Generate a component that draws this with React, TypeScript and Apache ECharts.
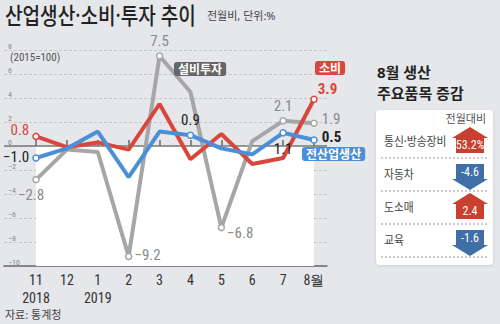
import React, { useEffect, useRef } from "react";
import * as echarts from "echarts";

const categories = ["11", "12", "1", "2", "3", "4", "5", "6", "7", "8월"];
const yearLabels = ["2018", "", "2019", "", "", "", "", "", "", ""];
const investment = [-2.8, -0.3, -0.5, -9.2, 7.5, 4.5, -6.8, 0.4, 2.1, 1.9];
const consumption = [0.8, -0.1, 0.3, -0.3, 3.5, -1.1, 1.0, -1.5, -1.0, 3.9];
const production = [-1.0, -0.2, 1.2, -2.6, 1.2, 0.9, -0.2, -0.7, 1.1, 0.5];

const itemNames = ["통신·방송장비", "자동차", "도소매", "교육"];
const itemChanges = [53.2, -4.6, 2.4, -1.6];

const NUM_FONT = '"Liberation Sans Narrow", "Roboto Condensed", "Liberation Sans", Roboto, sans-serif';
const KR_FONT = '"Noto Sans", "Noto Sans CJK KR", sans-serif';

const RED = "#d9473c";
const BLUE = "#4b8fd6";
const GRAY = "#a6a6a6";

const fmt = (v: number) => (v < 0 ? "−" + Math.abs(v).toFixed(1) : v.toFixed(1));

type LabelSpec = { position: string; offset?: number[]; color: string; bold?: boolean; distance?: number };

const investmentLabels: Record<number, LabelSpec> = {
  0: { position: "bottom", offset: [-5, 0], color: "#8a8a8a" },
  3: { position: "right", offset: [0, -1], color: "#8a8a8a", distance: 2 },
  4: { position: "top", offset: [0, 0], color: "#8a8a8a", distance: 4 },
  6: { position: "right", offset: [0, 5], color: "#8a8a8a", distance: 2 },
  8: { position: "top", offset: [0, 0], color: "#8a8a8a", distance: 4 },
  9: { position: "right", offset: [0, -4], color: "#8a8a8a", distance: 4 },
};
const consumptionLabels: Record<number, LabelSpec> = {
  0: { position: "left", offset: [0, -6], color: RED, distance: 3 },
  9: { position: "right", offset: [-2, -10], color: RED, bold: true, distance: 2 },
};
const productionLabels: Record<number, LabelSpec> = {
  0: { position: "left", offset: [0, -1], color: "#222", distance: 3 },
  5: { position: "top", offset: [0, 0], color: "#222", distance: 4 },
  8: { position: "bottom", offset: [0, 2], color: "#222", distance: 3 },
  9: { position: "right", offset: [0, -3], color: "#222", bold: true, distance: 4 },
};

function buildData(values: number[], labels: Record<number, LabelSpec>, color: string) {
  return values.map((v, i) => {
    const spec = labels[i];
    if (!spec) return { value: v, symbol: "none" };
    return {
      value: v,
      symbol: "circle",
      symbolSize: 6,
      itemStyle: { color: "#fff", borderColor: color, borderWidth: 1.5 },
      label: {
        show: true,
        position: spec.position,
        offset: spec.offset || [0, 0],
        distance: spec.distance ?? 4,
        color: spec.color,
        fontSize: 15,
        fontWeight: spec.bold ? "bold" : "normal",
        fontFamily: NUM_FONT,
        formatter: () => fmt(v),
      },
    };
  });
}

function tag(text: string, x: number, y: number, bg: string) {
  return {
    type: "text",
    x,
    y,
    z: 10,
    style: {
      text,
      fill: "#fff",
      font: `bold 12px ${KR_FONT}`,
      backgroundColor: bg,
      padding: [1, 4, 1, 4],
      borderRadius: 3,
    },
  };
}

function arrow(cx: number, cy: number, up: boolean, color: string, label: string) {
  const s = up ? 1 : -1;
  const pts = [
    [0, -13],
    [18, -2],
    [14, -2],
    [14, 13],
    [-14, 13],
    [-14, -2],
    [-18, -2],
  ].map(([px, py]) => [cx + px, cy + s * py]);
  return [
    { type: "polygon", shape: { points: pts }, style: { fill: color }, z: 10 },
    {
      type: "text",
      x: cx,
      y: cy + (up ? 5 : -5),
      z: 11,
      style: {
        text: label,
        fill: "#fff",
        font: `12px ${NUM_FONT}`,
        align: "center",
        verticalAlign: "middle",
      },
    },
  ];
}

export default function App() {
  const ref = useRef<HTMLDivElement>(null);
  useEffect(() => {
    document.body.style.margin = "0";
    if (!ref.current) return;
    const chart = echarts.init(ref.current, null, { renderer: "svg" });

    const panel: any[] = [];
    panel.push({
      type: "rect",
      shape: { x: 376, y: 110, width: 117, height: 155, r: 4 },
      style: { fill: "#fff", shadowBlur: 3, shadowColor: "rgba(0,0,0,0.12)", shadowOffsetY: 1 },
      z: 5,
    });
    panel.push({
      type: "text",
      x: 486,
      y: 113,
      z: 10,
      style: { text: "전월대비", fill: "#555", font: `11px ${KR_FONT}`, align: "right" },
    });
    itemNames.forEach((name, i) => {
      const rowY = 141 + i * 33;
      const up = itemChanges[i] > 0;
      panel.push({
        type: "text",
        x: 384,
        y: rowY,
        z: 10,
        scaleX: 0.9,
        style: { text: name, fill: "#444", font: `12px ${KR_FONT}`, verticalAlign: "middle" },
      });
      const lbl = i === 0 ? itemChanges[i].toFixed(1) + "%" : itemChanges[i].toFixed(1);
      panel.push(...arrow(470, rowY + (up ? -1 : 3), up, up ? "#c8412e" : "#3f6fa6", lbl));
      panel.push({
        type: "line",
        shape: { x1: 381, y1: rowY + 17, x2: 489, y2: rowY + 17 },
        style: { stroke: "#999", lineWidth: 1, lineDash: [2, 2] },
        z: 10,
      });
    });

    const option: any = {
      animation: false,
      backgroundColor: "#e5e7ea",
      textStyle: { fontFamily: NUM_FONT },
      grid: [
        { left: 4, right: 173, top: 50, bottom: 58 },
        { left: 36, right: 186, top: 50, bottom: 58 },
      ],
      xAxis: [
        {
          type: "value",
          gridIndex: 0,
          min: 0,
          max: 1,
          axisLine: { show: true, onZero: false, lineStyle: { color: "#6a6a6a", width: 1.5 } },
          axisTick: { show: false },
          axisLabel: { show: false },
          splitLine: { show: false },
        },
        {
          type: "category",
          gridIndex: 1,
          data: categories,
          boundaryGap: false,
          axisLine: { show: false },
          axisTick: { show: true, inside: true, length: 6, lineStyle: { color: "#6a6a6a", width: 1.5 } },
          axisLabel: {
            interval: 0,
            margin: 5,
            color: "#333",
            fontSize: 14,
            lineHeight: 18,
            fontFamily: NUM_FONT,
            formatter: (v: string, i: number) => (yearLabels[i] ? v + "\n" + yearLabels[i] : v),
          },
          splitLine: { show: false },
        },
      ],
      yAxis: [
        {
          type: "value",
          gridIndex: 0,
          min: -10,
          max: 8,
          interval: 2,
          axisLine: { show: false },
          axisTick: { show: false },
          axisLabel: {
            align: "left",
            verticalAlign: "bottom",
            margin: -4,
            color: "#888",
            fontSize: 8,
            fontFamily: NUM_FONT,
            formatter: (v: number) => (v < 0 ? "−" + Math.abs(v) : String(v)),
          },
          splitLine: { lineStyle: { color: "#c4c6c9", type: [3, 2], width: 1 } },
        },
        { type: "value", gridIndex: 1, min: -10, max: 8, interval: 2, show: false },
      ],
      series: [
        {
          type: "line",
          xAxisIndex: 1,
          yAxisIndex: 1,
          data: [],
          z: -1,
          silent: true,
          markArea: {
            silent: true,
            itemStyle: { color: "#ffffff" },
            data: [[{ yAxis: -10 }, { yAxis: 0 }]],
          },
        },
        {
          type: "line",
          xAxisIndex: 0,
          yAxisIndex: 0,
          data: [
            [0, 0],
            [1, 0],
          ],
          symbol: "none",
          silent: true,
          z: 1,
          lineStyle: { color: "#777", width: 1.5 },
        },
        {
          name: "설비투자",
          type: "line",
          xAxisIndex: 1,
          yAxisIndex: 1,
          data: buildData(investment, investmentLabels, GRAY),
          lineStyle: { color: GRAY, width: 4 },
          itemStyle: { color: GRAY },
          z: 2,
        },
        {
          name: "소비",
          type: "line",
          xAxisIndex: 1,
          yAxisIndex: 1,
          data: buildData(consumption, consumptionLabels, RED),
          lineStyle: { color: RED, width: 4 },
          itemStyle: { color: RED },
          z: 3,
        },
        {
          name: "전산업생산",
          type: "line",
          xAxisIndex: 1,
          yAxisIndex: 1,
          data: buildData(production, productionLabels, BLUE),
          lineStyle: { color: BLUE, width: 4 },
          itemStyle: { color: BLUE },
          z: 4,
        },
      ],
      graphic: [
        {
          type: "text",
          x: 5,
          y: 3,
          scaleX: 0.83,
          style: { text: "산업생산·소비·투자 추이", fill: "#222", font: `500 23px ${KR_FONT}` },
        },
        {
          type: "text",
          x: 207,
          y: 10,
          style: { text: "전월비, 단위:%", fill: "#444", font: `11px ${KR_FONT}` },
        },
        {
          type: "text",
          x: 10,
          y: 52,
          style: { text: "(2015=100)", fill: "#555", font: `11px ${NUM_FONT}` },
        },
        {
          type: "text",
          x: 5,
          y: 309,
          style: { text: "자료: 통계청", fill: "#444", font: `11px ${KR_FONT}` },
        },
        {
          type: "text",
          x: 377,
          y: 64,
          style: { text: "8월 생산", fill: "#222", font: `bold 15px ${KR_FONT}` },
        },
        {
          type: "text",
          x: 377,
          y: 85,
          style: { text: "주요품목 증감", fill: "#222", font: `bold 15px ${KR_FONT}` },
        },
        tag("설비투자", 174, 62, "#666"),
        tag("소비", 315, 61, RED),
        tag("전산업생산", 302, 147, BLUE),
        ...panel,
      ],
    };
    chart.setOption(option);
    return () => chart.dispose();
  }, []);
  return <div ref={ref} style={{ width: 500, height: 324 }} />;
}
